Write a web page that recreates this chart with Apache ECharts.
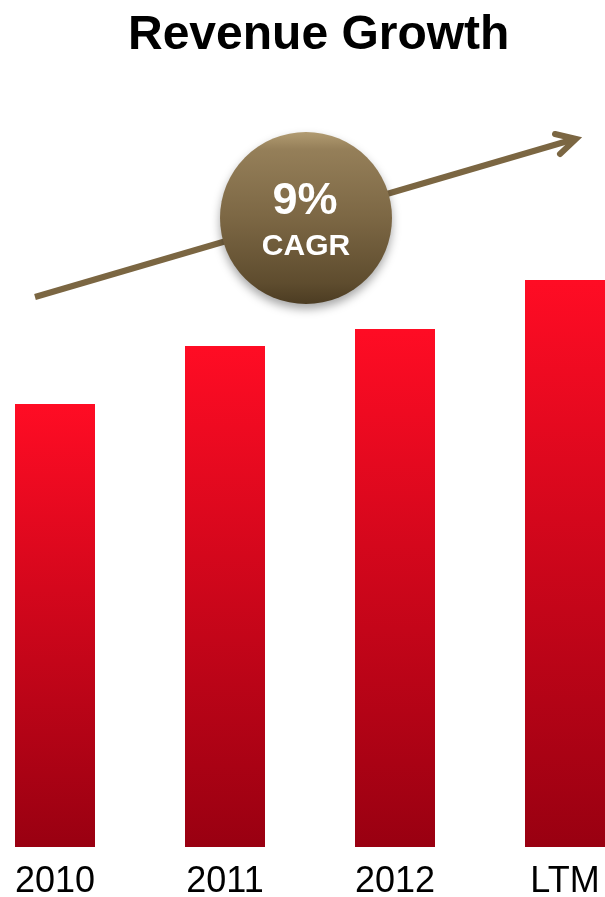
<!DOCTYPE html>
<html>
<head>
<meta charset="utf-8">
<script src="https://cdn.jsdelivr.net/npm/echarts@6/dist/echarts.min.js"></script>
<style>
  html, body { margin: 0; padding: 0; background: #fff; }
  #chart { width: 605px; height: 897px; }
</style>
</head>
<body>
<div id="chart"></div>
<script>
// Revenue by period (relative units)
const categories = ['2010', '2011', '2012', 'LTM'];
const revenue = [443, 501, 518, 567];
const cagrText = '9%';
const cagrLabel = 'CAGR';

const chart = echarts.init(document.getElementById('chart'), null, { renderer: 'canvas' });

const barGradient = new echarts.graphic.LinearGradient(0, 0, 0, 1, [
  { offset: 0, color: '#ff0c24' },
  { offset: 1, color: '#990011' }
]);

const badgeGradient = new echarts.graphic.LinearGradient(0, 0, 0, 1, [
  { offset: 0, color: '#b29c72' },
  { offset: 0.1, color: '#957f59' },
  { offset: 0.5, color: '#7c6744' },
  { offset: 0.88, color: '#5e4c2e' },
  { offset: 1, color: '#4c3c22' }
]);

const arrowColor = '#7b6642';

chart.setOption({
  backgroundColor: '#ffffff',
  animation: false,
  title: {
    text: 'Revenue Growth',
    left: 123,
    top: 7,
    textStyle: {
      fontFamily: 'Liberation Sans, Arial, sans-serif',
      fontSize: 48,
      fontWeight: 'bold',
      color: '#000'
    }
  },
  // bands of 170px; the plot runs a little past the canvas on both sides
  grid: { left: -30, width: 680, top: 247, bottom: 50, outerBoundsMode: 'none', containLabel: false },
  xAxis: {
    type: 'category',
    data: categories,
    axisLine: { show: false },
    axisTick: { show: false },
    axisLabel: {
      margin: 17,
      fontFamily: 'Liberation Sans, Arial, sans-serif',
      fontSize: 36,
      color: '#000'
    }
  },
  yAxis: {
    type: 'value',
    min: 0,
    max: 600,
    show: false,
    splitLine: { show: false }
  },
  series: [{
    type: 'bar',
    data: revenue,
    barWidth: 80,
    itemStyle: { color: barGradient }
  }],
  graphic: [
    {
      type: 'line',
      z: 10,
      shape: { x1: 35, y1: 297, x2: 573, y2: 139.5 },
      style: { stroke: arrowColor, lineWidth: 6 }
    },
    {
      type: 'polyline',
      z: 10,
      shape: { points: [[555, 134], [576, 139], [560, 154]] },
      style: { stroke: arrowColor, lineWidth: 6, lineJoin: 'miter', lineCap: 'round', fill: null }
    },
    {
      type: 'circle',
      z: 20,
      shape: { cx: 306, cy: 218, r: 86 },
      style: {
        fill: badgeGradient,
        shadowBlur: 10,
        shadowOffsetY: 5,
        shadowColor: 'rgba(0,0,0,0.35)'
      }
    },
    {
      type: 'text',
      z: 30,
      x: 305,
      y: 202,
      style: {
        text: cagrText,
        fontFamily: 'Liberation Sans, Arial, sans-serif',
        fontSize: 45,
        fontWeight: 'bold',
        fill: '#fff',
        align: 'center',
        verticalAlign: 'middle'
      }
    },
    {
      type: 'text',
      z: 30,
      x: 306,
      y: 247,
      style: {
        text: cagrLabel,
        fontFamily: 'Liberation Sans, Arial, sans-serif',
        fontSize: 30,
        fontWeight: 'bold',
        fill: '#fff',
        align: 'center',
        verticalAlign: 'middle'
      }
    }
  ]
});
</script>
</body>
</html>
